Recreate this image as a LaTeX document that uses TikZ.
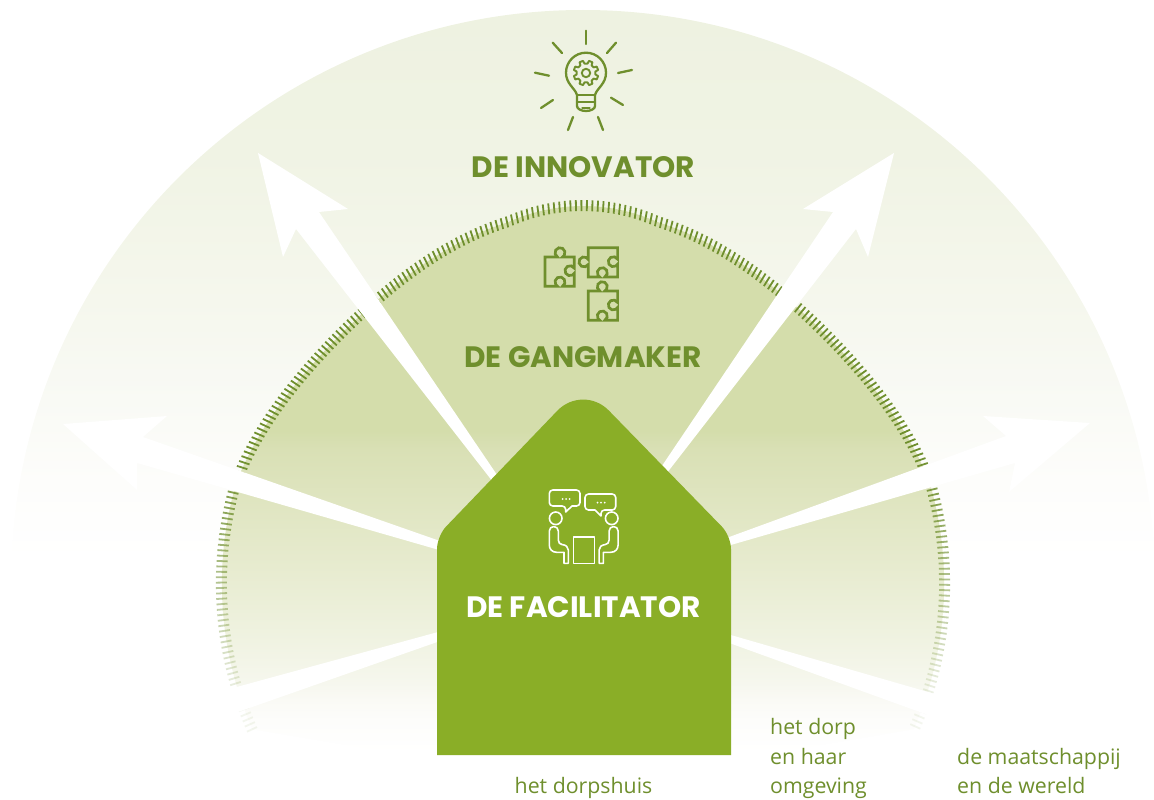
\documentclass[tikz,border=0pt]{standalone}
\usepackage{fontspec}
\setmainfont{Open Sans}
\newfontfamily\titlefont{Poppins}
\definecolor{olive}{HTML}{6F8F2D}
\definecolor{housegreen}{HTML}{8AAE27}
\pgfdeclareverticalshading{outerfade}{100bp}{
 color(0bp)=(white); color(40bp)=(white);
 rgb(45bp)=(0.992,0.992,0.984);
 rgb(50bp)=(0.976,0.980,0.961);
 rgb(56.25bp)=(0.961,0.969,0.929);
 rgb(65.6bp)=(0.941,0.953,0.894);
 rgb(74.4bp)=(0.933,0.949,0.882);
 rgb(100bp)=(0.933,0.949,0.882)}
\pgfdeclareverticalshading{innerfade}{100bp}{
 color(0bp)=(white); color(28bp)=(white);
 rgb(30bp)=(0.992,0.992,0.984);
 rgb(31.25bp)=(0.980,0.980,0.961);
 rgb(32.3bp)=(0.965,0.969,0.933);
 rgb(35.4bp)=(0.937,0.949,0.878);
 rgb(39.6bp)=(0.906,0.922,0.812);
 rgb(46.9bp)=(0.851,0.878,0.710);
 rgb(48.1bp)=(0.831,0.867,0.671);
 rgb(100bp)=(0.831,0.867,0.671)}
\tikzset{
 declare function={rr(\p)=(abs(\p)<=75)?(359+11.5*cos(4*\p)+4.5*max(0,1-abs(\p)*abs(\p)/144)):(364.75+(abs(\p)-75)*0.15);},
 iconline/.style={draw=olive,line width=2.3pt,line cap=round,line join=round},
 peopleline/.style={draw=white,line width=1.6pt,line cap=round,line join=round},
 arrowwhite/.style={fill=white,draw=none},
 bigtitle/.style={font=\titlefont\bfseries\fontsize{29.5}{34}\selectfont,text=olive,anchor=center,inner sep=0pt},
 place/.style={font=\fontsize{21.3}{30}\selectfont,text=olive,anchor=base west,inner sep=0pt,align=left},
}
\begin{document}
\begin{tikzpicture}[x=1pt,y=-1pt]
\useasboundingbox (0,0) rectangle (1154,800);
% outer dome
\begin{scope}
\clip (583,582) circle[radius=572];
\shade[shading=outerfade] (0,0) rectangle (1154,800);
\end{scope}
% inner dome
\begin{scope}
\clip plot[domain=-115:115,samples=231,variable=\p] ({583+(rr(\p)-6)*sin(\p)},{575-(rr(\p)-6)*cos(\p)}) -- (731,760) -- (437,760) -- cycle;
\shade[shading=innerfade] (0,0) rectangle (1154,800);
\end{scope}
% ticks
\foreach \p in {-115,-114.15,...,115.2}{
 \pgfmathsetmacro{\rad}{rr(\p)}
 \pgfmathsetmacro{\py}{575-\rad*cos(\p)}
 \pgfmathsetmacro{\op}{max(0.08,min(1,1-(\py-450)/280))}
 \draw[olive,line width=1.8pt,opacity=\op] ({583+(\rad-11)*sin(\p)},{575-(\rad-11)*cos(\p)}) -- ({583+\rad*sin(\p)},{575-\rad*cos(\p)});
}
% white arrows
\fill[arrowwhite] (258,153) -- (348,209) -- (319,212) -- (514,500) -- (507,500) -- (296,229) -- (283,257) -- cycle;
\fill[arrowwhite] (894,153) -- (868,257) -- (856,229) -- (646,500) -- (639,500) -- (833,212) -- (803,209) -- cycle;
\fill[arrowwhite] (63,424) -- (167,416) -- (143,437) -- (460,548) -- (460,556) -- (137,463) -- (137,490) -- cycle;
\fill[arrowwhite] (1090,423) -- (1009,492) -- (1015,463) -- (710,551) -- (710,544) -- (1006,436) -- (983,416) -- cycle;
\fill[arrowwhite] (460,626) -- (233,688) -- (180,703) -- (180,732) -- (238,712) -- (460,634) -- cycle;
\fill[arrowwhite] (710,629) -- (928,692) -- (985,709) -- (985,738) -- (928,715) -- (710,636) -- cycle;
% house
\fill[housegreen] (437,755) [rounded corners=13pt] -- (437,536) [rounded corners=37pt] -- (583,384) [rounded corners=13pt] -- (731,536) [sharp corners] -- (731,755) -- cycle;
% bulb icon
\foreach \ax/\ay/\bx/\by [count=\i] in {586/30.7/586/44,616/42.7/607/53,632/70/618/73,623/105/611/97.7,603/130/598/117,568/130/573/117,541/108/553/100,535/72.7/549/75.7,552.7/42.7/562/53}{
 \coordinate (ray\i a) at (\ax,\ay);
 \coordinate (ray\i b) at (\bx,\by);
 \draw[iconline] (ray\i a) -- (ray\i b);
}
\draw[iconline] (577,95) .. controls (575,88) and (566,84) .. (566,72.7) arc[start angle=180,end angle=360,radius=20] .. controls (606,84) and (597,88) .. (595,95) -- (595,106) arc[start angle=0,end angle=180,x radius=9,y radius=5] -- cycle;
\draw[iconline] (577,95) -- (595,95) (577,102) -- (595,102);
\draw[iconline,line width=1.3pt] (582,108) -- (590,108);
\draw[iconline,line width=1.9pt] (586,73) circle[radius=4.2];
\begin{scope}[shift={(586,73)}]
\draw[iconline,line width=1.9pt] (9:9.5) foreach \a in {0,45,...,315}{ -- (\a+9:9.5) -- (\a+14:12.5) -- (\a+31:12.5) -- (\a+36:9.5) } -- cycle;
\end{scope}
% puzzle pieces
\begin{scope}[shift={(545,257)},line width=2.7pt]
\draw[iconline,line width=2.7pt,line join=miter] (0,0) -- (12.5,0) arc[start angle=120,end angle=420,radius=5] -- (29.3,0) -- (29.3,11.2) arc[start angle=-30,end angle=-330,radius=5] -- (29.3,29.3) -- (17.5,29.3) arc[start angle=60,end angle=-240,radius=5] -- (0,29.3) -- cycle;
\end{scope}
\begin{scope}[shift={(588.3,247.7)}]
\draw[iconline,line width=2.7pt,line join=miter] (0,0) -- (29.3,0) -- (29.3,11.5) arc[start angle=-30,end angle=-330,radius=5] -- (29.3,29.3) -- (16.5,29.3) arc[start angle=60,end angle=-240,radius=5] -- (0,29.3) -- (0,16.7) arc[start angle=30,end angle=330,radius=5] -- cycle;
\end{scope}
\begin{scope}[shift={(588.3,291)}]
\draw[iconline,line width=2.7pt,line join=miter] (0,0) -- (11.5,0) arc[start angle=120,end angle=420,radius=5] -- (29.3,0) -- (29.3,11.5) arc[start angle=-30,end angle=-330,radius=5] -- (29.3,29.3) -- (16.5,29.3) arc[start angle=60,end angle=-240,radius=5] -- (0,29.3) -- cycle;
\end{scope}
% people icon
\draw[peopleline,rounded corners=3.5pt] (572,506) -- (580,506) -- (580,490) -- (549.3,490) -- (549.3,506) -- (565.7,506) [sharp corners] -- (565.7,512) -- (572,506);
\draw[peopleline,rounded corners=3.5pt] (595,510) -- (585,510) -- (585,494) -- (615.7,494) -- (615.7,510) -- (601,510) [sharp corners] -- (601,516) -- (595,510);
\foreach \dx/\dy in {562.5/499,566/499,569.5/499,597.5/502.7,601/502.7,604.7/502.7}
 \fill[white] (\dx,\dy) circle[radius=1];
\draw[peopleline] (555.7,518.3) circle[radius=6.3];
\draw[peopleline] (611.7,518.3) circle[radius=6.3];
\draw[peopleline] (573.3,536.7) rectangle (594.3,563.3);
\draw[peopleline] (549.3,531) arc[start angle=180,end angle=360,radius=4.5] -- (558.3,540) .. controls (558.3,543) and (560,544) .. (562,544.5) .. controls (566,545) and (568.3,547) .. (568.3,550) -- (568.3,563.3) -- (564,563.3) -- (564,552.3) -- (556.7,552.3) .. controls (552,552.3) and (549.3,549) .. (549.3,545) -- cycle;
\begin{scope}[xshift=1167.4pt,xscale=-1]
\draw[peopleline] (549.3,531) arc[start angle=180,end angle=360,radius=4.5] -- (558.3,540) .. controls (558.3,543) and (560,544) .. (562,544.5) .. controls (566,545) and (568.3,547) .. (568.3,550) -- (568.3,563.3) -- (564,563.3) -- (564,552.3) -- (556.7,552.3) .. controls (552,552.3) and (549.3,549) .. (549.3,545) -- cycle;
\end{scope}
% titles
\node[bigtitle] (innovator) at (583.5,167) {DE INNOVATOR};
\node[bigtitle] (gangmaker) at (583,357) {DE GANGMAKER};
\node[bigtitle,text=white] (facilitator) at (583.5,607) {DE FACILITATOR};
% places
\node[place,anchor=base] (dorpshuis) at (583.5,793) {het dorpshuis};
\node[place] (dorp1) at (770,734.5) {het dorp};
\node[place] (dorp2) at (770,764) {en haar};
\node[place] (dorp3) at (770,793) {omgeving};
\node[place] (wereld1) at (957,764) {de maatschappij};
\node[place] (wereld2) at (957,793) {en de wereld};
\end{tikzpicture}
\end{document}
